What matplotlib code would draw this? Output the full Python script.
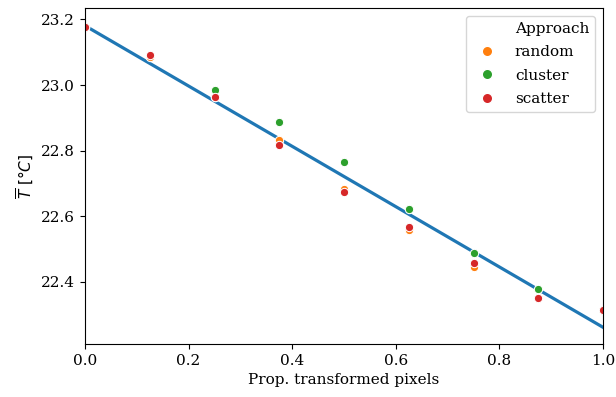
import numpy as np
import matplotlib
matplotlib.use("Agg")
import matplotlib.pyplot as plt
from matplotlib.lines import Line2D

plt.rcParams["font.family"] = "DejaVu Serif"
plt.rcParams["font.size"] = 11

# data
props = [0.0, 0.125, 0.25, 0.375, 0.5, 0.625, 0.75, 0.875, 1.0]
random_T = [23.177, 23.086, 22.964, 22.833, 22.683, 22.558, 22.446, 22.350, 22.313]
cluster_T = [23.177, None, 22.985, 22.888, 22.765, 22.623, 22.488, 22.377, 22.313]
scatter_T = [23.177, 23.092, 22.963, 22.817, 22.674, 22.567, 22.456, 22.350, 22.313]
approaches = ["random", "cluster", "scatter"]
colors = {"random": "#ff7f0e", "cluster": "#2ca02c", "scatter": "#d62728"}

# fitted line
fit_x = [0.0, 1.0]
fit_T = [23.181, 22.261]

fig = plt.figure(figsize=(6.16, 3.97), dpi=100)
ax = fig.add_axes([85 / 616, 1 - 344 / 397, (603 - 85) / 616, (344 - 8) / 397])

ax.plot(fit_x, fit_T, color="#1f77b4", lw=2.3, zorder=1)

series = {"random": random_T, "cluster": cluster_T, "scatter": scatter_T}
for name in approaches:
    xs = [x for x, y in zip(props, series[name]) if y is not None]
    ys = [y for y in series[name] if y is not None]
    ax.scatter(xs, ys, s=36, color=colors[name], edgecolor="white",
               linewidth=0.75, zorder=2)

ax.set_xlim(0, 1)
ax.set_ylim(22.21, 23.235)
ax.set_yticks([22.4, 22.6, 22.8, 23.0, 23.2])
ax.set_xlabel("Prop. transformed pixels")
ax.set_ylabel(r"$\overline{T}\ [°C]$")

handles = [Line2D([], [], linestyle="none", marker="none")]
labels = ["Approach"]
for name in approaches:
    handles.append(Line2D([], [], linestyle="none", marker="o", markersize=7.5,
                          markerfacecolor=colors[name], markeredgecolor="white"))
    labels.append(name)
ax.legend(handles, labels, loc="upper right", labelspacing=0.62)

fig.savefig("out.png", dpi=100)
